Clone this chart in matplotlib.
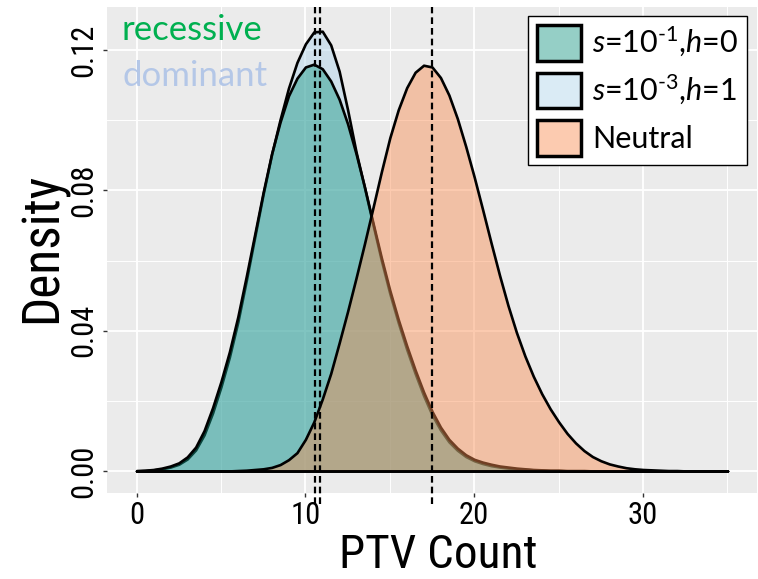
import numpy as np
import matplotlib
matplotlib.use("Agg")
import matplotlib.pyplot as plt
from matplotlib.patches import Patch
from matplotlib import font_manager as fm

# ---------------- data ----------------
ptv_count = np.arange(0, 35.01, 0.5)

dens_recessive = [0.0001, 0.0002, 0.0004, 0.0008, 0.0014, 0.0023, 0.0040, 0.0068, 0.0115, 0.0180,
                  0.0255, 0.0340, 0.0440, 0.0555, 0.0675, 0.0795, 0.0905, 0.0995, 0.1070, 0.1120,
                  0.1152, 0.1160, 0.1147, 0.1112, 0.1060, 0.0990, 0.0905, 0.0810, 0.0708, 0.0608,
                  0.0515, 0.0432, 0.0357, 0.0288, 0.0225, 0.0170, 0.0125, 0.0090, 0.0065, 0.0046,
                  0.0033, 0.0025, 0.0019, 0.0014, 0.0011, 0.0008, 0.0006, 0.0004, 0.0003, 0.0002,
                  0.0002, 0.0001, 0.0001, 0.0001, 0, 0, 0, 0, 0, 0,
                  0, 0, 0, 0, 0, 0, 0, 0, 0, 0,
                  0]
dens_dominant = [0.0000, 0.0001, 0.0003, 0.0006, 0.0011, 0.0019, 0.0034, 0.0060, 0.0103, 0.0165,
                 0.0240, 0.0325, 0.0425, 0.0543, 0.0667, 0.0790, 0.0903, 0.1002, 0.1092, 0.1165,
                 0.1218, 0.1252, 0.1254, 0.1215, 0.1140, 0.1030, 0.0910, 0.0808, 0.0703, 0.0600,
                 0.0506, 0.0423, 0.0347, 0.0278, 0.0215, 0.0160, 0.0117, 0.0083, 0.0059, 0.0041,
                 0.0029, 0.0021, 0.0015, 0.0011, 0.0008, 0.0006, 0.0004, 0.0003, 0.0002, 0.0001,
                 0.0001, 0, 0, 0, 0, 0, 0, 0, 0, 0,
                 0, 0, 0, 0, 0, 0, 0, 0, 0, 0,
                 0]
dens_neutral = [0, 0, 0, 0, 0, 0, 0, 0, 0, 0,
                0, 0, 0.0001, 0.0002, 0.0004, 0.0006, 0.0010, 0.0018, 0.0032, 0.0052,
                0.0090, 0.0140, 0.0205, 0.0278, 0.0365, 0.0455, 0.0550, 0.0648, 0.0750, 0.0853,
                0.0950, 0.1030, 0.1093, 0.1137, 0.1157, 0.1152, 0.1122, 0.1072, 0.1005, 0.0925,
                0.0838, 0.0745, 0.0650, 0.0558, 0.0472, 0.0395, 0.0328, 0.0270, 0.0220, 0.0177,
                0.0140, 0.0107, 0.0080, 0.0058, 0.0041, 0.0029, 0.0020, 0.0014, 0.0009, 0.0006,
                0.0004, 0.0003, 0.0002, 0.0001, 0.0001, 0, 0, 0, 0, 0,
                0]

mean_values = [10.55, 10.89, 17.5]
legend_labels = [r'$s$=10$^{\text{-}1}$,$h$=0', r'$s$=10$^{\text{-}3}$,$h$=1', 'Neutral']
x_ticks = [0, 10, 20, 30]
y_ticks = [0.00, 0.04, 0.08, 0.12]
y_tick_labels = ['0.00', '0.04', '0.08', '0.12']

# ---------------- fonts ----------------
cond_file = None
prefs = ['RobotoCondensed-Regular', 'LiberationSansNarrow-Regular', 'RobotoCondensed-Light',
         'OpenSans_Condensed-Regular', 'OpenSansCondensed', 'DejaVuSansCondensed.ttf']
files = [f.fname for f in fm.fontManager.ttflist]
for p in prefs:
    hits = [f for f in files if p.lower() in f.lower().replace(' ', '')]
    if hits:
        cond_file = hits[0]
        break
if cond_file is None:
    hits = [f for f in files if ('condensed' in f.lower() or 'narrow' in f.lower())
            and 'bold' not in f.lower() and 'oblique' not in f.lower() and 'italic' not in f.lower()]
    cond_file = hits[0] if hits else None

def axfont(size):
    if cond_file:
        return fm.FontProperties(fname=cond_file, size=size)
    return fm.FontProperties(family='DejaVu Sans', size=size)

plt.rcParams['mathtext.fontset'] = 'custom'
plt.rcParams['mathtext.rm'] = 'Lato'
plt.rcParams['mathtext.it'] = 'Lato:italic'

ALPHA = 0.45
c_dom = (175/255, 212/255, 235/255, ALPHA)
c_rec = (20/255, 150/255, 130/255, ALPHA)
c_neu = (250/255, 140/255, 80/255, ALPHA)

W, H = 758, 579
fig = plt.figure(figsize=(W/100, H/100), dpi=100)
L, R, T, B = 107, 757, 7, 493
ax = fig.add_axes([L/W, (H-B)/H, (R-L)/W, (B-T)/H])
ax.set_facecolor('#EBEBEB')
for s in ax.spines.values():
    s.set_visible(False)

ax.set_xlim(-1.75, 36.75)
ax.set_ylim(-0.0063, 0.1323)
ax.set_xticks(x_ticks)
ax.set_xticks([5, 15, 25, 35], minor=True)
ax.set_yticks(y_ticks)
ax.set_yticks([0.02, 0.06, 0.10], minor=True)
ax.grid(which='major', color='white', lw=1.3)
ax.grid(which='minor', color='white', lw=0.7)
ax.set_axisbelow(True)
ax.tick_params(which='minor', length=0)
ax.tick_params(which='major', length=3, width=1, color='#333333', pad=3)
ax.set_xticklabels([str(v) for v in x_ticks], fontproperties=axfont(22), color='black')
ax.set_yticklabels(y_tick_labels, fontproperties=axfont(22), color='black',
                   rotation=90, va='center')

# densities: draw order dominant, recessive, neutral
for dens, col in [(dens_dominant, c_dom), (dens_recessive, c_rec), (dens_neutral, c_neu)]:
    ax.fill_between(ptv_count, 0, dens, facecolor=col, edgecolor='black', lw=1.9, zorder=2)

for m in mean_values:
    ax.plot([m, m], [-0.0095, 0.1323], color='black', lw=1.6,
            linestyle=(0, (3, 1.8)), zorder=3, clip_on=False)

# axis titles
fig.text(438/W, (H-568)/H, 'PTV Count', fontproperties=axfont(34), ha='center', va='baseline')
fig.text(43/W, (H-248)/H, 'Density', fontproperties=axfont(37), rotation=90,
         ha='center', va='center')

handles = [Patch(facecolor=c, edgecolor='black', lw=2.5) for c in (c_rec, c_dom, c_neu)]
leg = ax.legend(handles, legend_labels, loc='upper right', bbox_to_anchor=(0.985, 0.981),
                borderaxespad=0, prop={'family': 'Lato', 'size': 22},
                handlelength=1.45, handleheight=1.4, labelspacing=0.4, handletextpad=0.35,
                borderpad=0.3, fancybox=False, framealpha=1, edgecolor='black')
leg.get_frame().set_linewidth(1.0)

fig.text(122/W, (H-40)/H, 'recessive', color='#00B050', fontsize=25, family='Lato', va='baseline')
fig.text(122/W, (H-86)/H, 'dominant', color='#B4C7E7', fontsize=25, family='Lato', va='baseline')

fig.savefig('out.png', dpi=100)
